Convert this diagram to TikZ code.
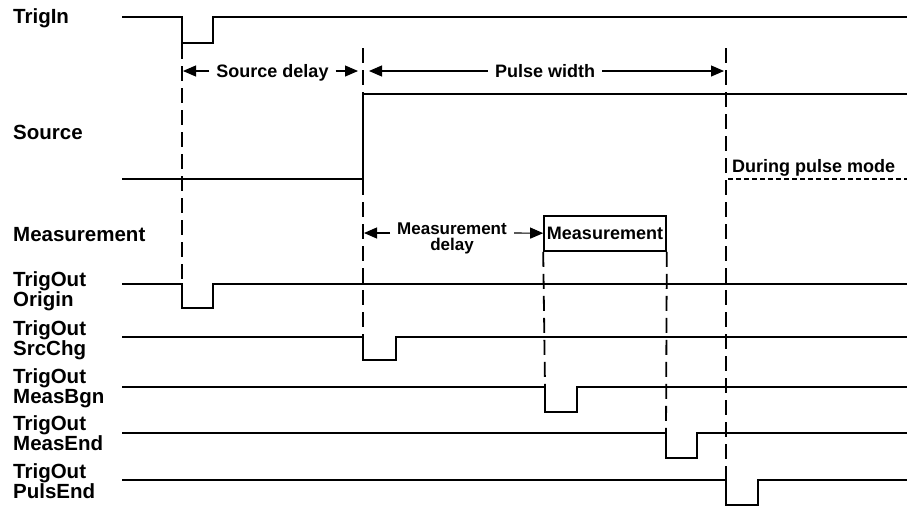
\documentclass[tikz,border=0pt]{standalone}
\usepackage{fontspec}
\setmainfont{Liberation Sans}
\usetikzlibrary{arrows.meta,positioning}

\begin{document}
\begin{tikzpicture}[
  x=1pt,y=-1pt,
  sig/.style={line width=2.2pt},
  marker/.style={line width=1.8pt,dash pattern=on 15pt off 7pt},
  span/.style={line width=1.1pt,-{Triangle[length=13pt,width=11pt]}},
  lbl/.style={font=\bfseries\fontsize{20.5}{20}\selectfont,
    align=left,anchor=north west,inner sep=0pt},
  note/.style={font=\bfseries\fontsize{18}{16}\selectfont,
    inner xsep=7pt,inner ysep=0pt},
  measbox/.style={draw,line width=1.6pt,minimum width=122pt,
    minimum height=35pt,inner sep=0pt,font=\bfseries\fontsize{18}{16}\selectfont}
]
\useasboundingbox (0,0) rectangle (909,507);

% signal names
\node[lbl] (trigin) at (13,8) {TrigIn};
\node[lbl] (source) at (13,125) {Source};
\node[lbl] (meas) at (13,227) {Measurement};
\node[lbl] (origin) at (13,271) {TrigOut\\Origin};
\node[lbl] (srcchg) at (13,320) {TrigOut\\SrcChg};
\node[lbl] (measbgn) at (13,368) {TrigOut\\MeasBgn};
\node[lbl] (measend) at (13,415) {TrigOut\\MeasEnd};
\node[lbl] (pulsend) at (13,463) {TrigOut\\PulsEnd};

% waveforms
\draw[sig] (122,17) -| (182,43) -| (213,17) -- (907,17);
\draw[sig] (122,179) -| (363,94) -- (907,94);
\draw[sig] (122,284) -| (182,308) -| (213,284) -- (907,284);
\draw[sig] (122,337) -| (363,360) -| (396,337) -- (907,337);
\draw[sig] (122,387) -| (545,412) -| (577,387) -- (907,387);
\draw[sig] (122,433) -| (666,458) -| (697,433) -- (907,433);
\draw[sig] (122,480) -| (726,505) -| (758,480) -- (907,480);

% time markers
\coordinate (d1top) at (182,44);
\coordinate (d1bot) at (182,284);
\coordinate (d2top) at (363,48);
\coordinate (d2bot) at (363,337);
\coordinate (d3top) at (726,48);
\coordinate (d3bot) at (726,480);
\coordinate (d4bot) at (545,387);
\coordinate (d5bot) at (666,433);

\node[measbox] (measbox) at (605,233.5) {Measurement};

\draw[marker] (d1top) -- (d1bot);
\draw[marker] (d2top) -- (d2bot);
\draw[marker] (d3top) -- (d3bot);
\draw[marker] (measbox.south west) -- (d4bot);
\draw[marker] (measbox.south east) -- (d5bot);

% spans
\coordinate (sdl) at (183,71);
\coordinate (sdr) at (358,71);
\coordinate (pwl) at (369,71);
\coordinate (pwr) at (724,71);
\coordinate (mdl) at (364,233);

\node[note,anchor=base] (srcdelay) at (272.5,77) {Source delay};
\node[note,anchor=base] (pulsewidth) at (545,77) {Pulse width};
\node[note,align=center,font=\bfseries\fontsize{17}{16}\selectfont]
  (measdelay) at (452,238) {Measurement\\delay};

\draw[span] (srcdelay.west |- sdl) -- (sdl);
\draw[span] (srcdelay.east |- sdr) -- (sdr);
\draw[span] (pulsewidth.west |- pwl) -- (pwl);
\draw[span] (pulsewidth.east |- pwr) -- (pwr);
\draw[span] (measdelay.west |- mdl) -- (mdl);
\draw[span] (measdelay.east |- mdl) -- (measbox);

% pulse mode level
\node[note,anchor=base west,inner xsep=0pt] (pulsemode) at (732,172) {During pulse mode};
\coordinate (pm1) at (728,179);
\coordinate (pm2) at (907,179);
\draw[line width=1.6pt,dash pattern=on 5pt off 3pt] (pm1) -- (pm2);
\end{tikzpicture}
\end{document}
